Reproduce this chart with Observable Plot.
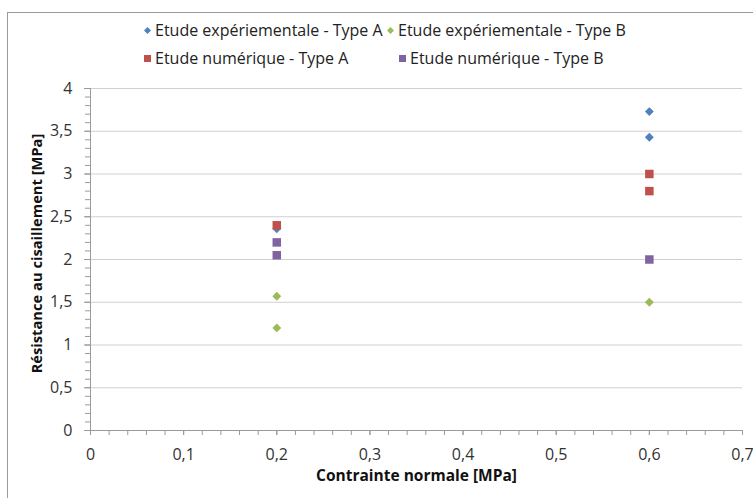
<!DOCTYPE html>
<html><head><meta charset="utf-8">
<script src="https://cdn.jsdelivr.net/npm/d3@7"></script>
<script src="https://cdn.jsdelivr.net/npm/@observablehq/plot@0.6"></script>
<style>
html,body{margin:0;padding:0;background:#fff;}
#wrap{position:relative;width:753px;height:498px;overflow:hidden;font-family:"Open Sans",sans-serif;}
#frame{position:absolute;left:7px;top:12px;width:800px;height:600px;border:1px solid #9a9a9a;box-sizing:border-box;}
#legend{position:relative;height:78px;}
.item{position:absolute;font-size:16px;color:#222;white-space:nowrap;line-height:20px;}
.item svg{position:absolute;left:-12px;top:6px;}
#chart{position:relative;}
</style></head>
<body><div id="wrap"><div id="frame"></div><div id="legend"></div><div id="chart"></div></div>
<script>
const seriesNames = ["Etude expériementale - Type A","Etude expériementale - Type B","Etude numérique - Type A","Etude numérique - Type B"];
const seriesColors = ["#4F81BD","#9BBB59","#C0504D","#8064A2"];
const seriesSymbols = ["diamond2","diamond2","square","square"];
const expA_x = [0.2, 0.6, 0.6];
const expA_y = [2.36, 3.73, 3.43];
const expB_x = [0.2, 0.2, 0.6];
const expB_y = [1.57, 1.20, 1.50];
const numA_x = [0.2, 0.6, 0.6];
const numA_y = [2.40, 3.00, 2.80];
const numB_x = [0.2, 0.2, 0.6];
const numB_y = [2.20, 2.05, 2.00];
const xTicks = [0,0.1,0.2,0.3,0.4,0.5,0.6,0.7];
const yTicks = [0,0.5,1,1.5,2,2.5,3,3.5,4];
const xTitle = "Contrainte normale [MPa]";
const yTitle = "Résistance au cisaillement [MPa]";

const xs=[expA_x,expB_x,numA_x,numB_x], ys=[expA_y,expB_y,numA_y,numB_y];
const data = [];
seriesNames.forEach((s,i)=>xs[i].forEach((x,j)=>data.push({series:s,x,y:ys[i][j],sym:seriesSymbols[i]})));
const fmt = d => String(d).replace(".", ",");
const minorX = d3.range(0, 0.7001, 0.02).map(v=>+v.toFixed(2));
const minorY = d3.range(0, 4.0001, 0.1).map(v=>+v.toFixed(1));
const axisCol = "#9a9a9a";

const chart = Plot.plot({
  width: 753, height: 420,
  marginLeft: 90, marginRight: 11, marginTop: 10, marginBottom: 68,
  style: {fontFamily: '"Open Sans",sans-serif', color: "#333", overflow: "visible"},
  x: {domain: [0, 0.7]},
  y: {domain: [0, 4]},
  color: {domain: seriesNames, range: seriesColors},
  marks: [
    Plot.gridY(yTicks.filter(d=>d>0), {stroke: "#d0d0d0", strokeOpacity: 1}),
    Plot.axisY(minorY, {tickSize: 5, text: null, stroke: axisCol, label: null}),
    Plot.axisX(minorX, {tickSize: 5, text: null, stroke: axisCol, label: null}),
    Plot.axisY(yTicks, {tickSize: 6, tickPadding: 12, tickFormat: fmt, fontSize: 16, stroke: axisCol, fill: "#333", label: null}),
    Plot.axisX(xTicks, {tickSize: 5, tickPadding: 13, tickFormat: fmt, fontSize: 16, stroke: axisCol, fill: "#333", label: null}),
    Plot.ruleX([0], {stroke: axisCol}),
    Plot.ruleY([0], {stroke: axisCol}),
    Plot.text([yTitle], {frameAnchor: "left", textAnchor: "middle", rotate: -90, dx: -53, dy: -6, fontSize: 14.7, fontWeight: "bold", fill: "#111"}),
    Plot.text([xTitle], {frameAnchor: "bottom", textAnchor: "middle", dy: 50, fontSize: 15.5, fontWeight: "bold", fill: "#111"}),
    Plot.dot(data.filter(d=>d.sym==="diamond2"), {x: "x", y: "y", fill: "series", symbol: "diamond2", r: 4, stroke: "none"}),
    Plot.dot(data.filter(d=>d.sym==="square"), {x: "x", y: "y", fill: "series", symbol: "square", r: 4.8, stroke: "none"})
  ]
});
document.getElementById("chart").appendChild(chart);

const legendPos = [[155,20],[398,20],[155,48],[410,48]];
const leg = document.getElementById("legend");
seriesNames.forEach((s,i)=>{
  const d = document.createElement("div");
  d.className = "item";
  d.style.left = legendPos[i][0]+"px"; d.style.top = legendPos[i][1]+"px";
  const shape = seriesSymbols[i]==="square"
    ? `<rect x="1" y="1" width="7" height="7" fill="${seriesColors[i]}"/>`
    : `<path d="M4.5 1 L8 4.5 L4.5 8 L1 4.5Z" fill="${seriesColors[i]}"/>`;
  d.innerHTML = `<svg width="9" height="9">${shape}</svg>${s}`;
  leg.appendChild(d);
});
</script></body></html>
